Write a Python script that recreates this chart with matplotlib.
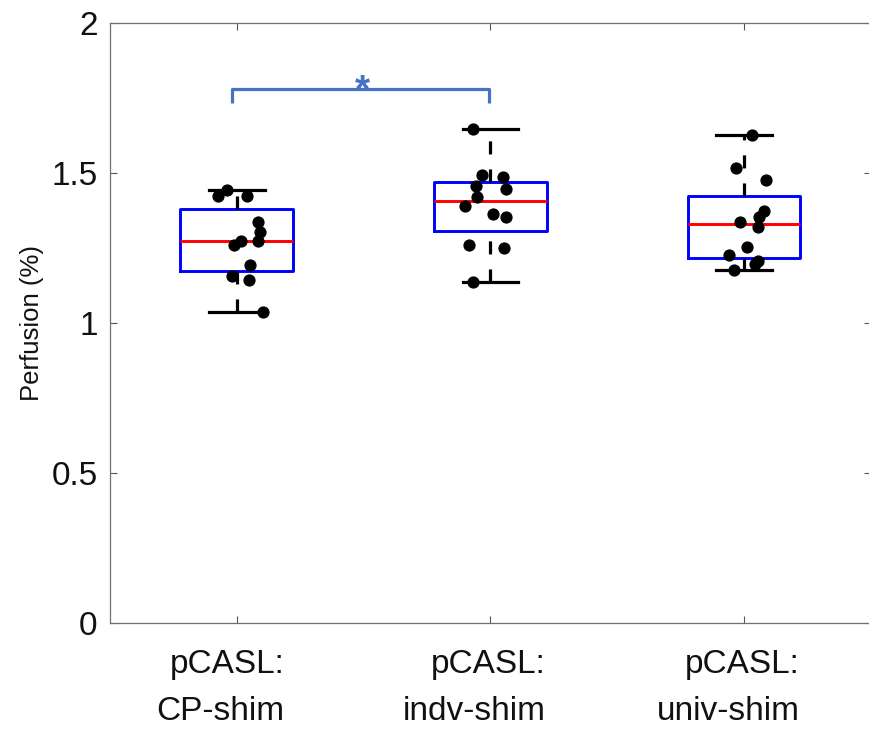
import numpy as np
import matplotlib
matplotlib.use("Agg")
import matplotlib.pyplot as plt
from matplotlib import cbook
import matplotlib.transforms as mtransforms

plt.rcParams['font.family'] = ['Liberation Sans', 'DejaVu Sans']
plt.rcParams['lines.scale_dashes'] = False

# ---- data ----
categories = ["pCASL:\nCP-shim", "pCASL:\nindv-shim", "pCASL:\nuniv-shim"]
cp_shim = [1.423, 1.443, 1.425, 1.337, 1.303, 1.273, 1.273, 1.259, 1.193, 1.157, 1.143, 1.0375]
indv_shim = [1.648, 1.495, 1.486, 1.458, 1.449, 1.421, 1.392, 1.364, 1.354, 1.259, 1.251, 1.137]
univ_shim = [1.628, 1.519, 1.476, 1.373, 1.353, 1.337, 1.321, 1.254, 1.226, 1.207, 1.196, 1.177]
# horizontal jitter of the dots (in category units)
cp_jitter = [-0.073, -0.037, 0.039, 0.083, 0.092, 0.085, 0.017, -0.013, 0.052, -0.020, 0.050, 0.103]
indv_jitter = [-0.069, -0.035, 0.050, -0.058, 0.060, -0.051, -0.099, 0.010, 0.063, -0.086, 0.052, -0.069]
univ_jitter = [0.030, -0.032, 0.086, 0.079, 0.060, -0.016, 0.056, 0.013, -0.058, 0.056, 0.043, -0.038]
yticks = [0, 0.5, 1, 1.5, 2]
ytick_labels = ["0", "0.5", "1", "1.5", "2"]
ylabel = "Perfusion (%)"
sig_pair = (1, 2)
sig_text = "*"

groups = [cp_shim, indv_shim, univ_shim]
jitters = [cp_jitter, indv_jitter, univ_jitter]
positions = [1, 2, 3]

# ---- box statistics (MATLAB-style quartiles) ----
stats = []
for g in groups:
    a = np.asarray(g)
    s = cbook.boxplot_stats(a, whis=1.5)[0]
    q1, med, q3 = np.percentile(a, [25, 50, 75], method='hazen')
    iqr = q3 - q1
    s['q1'], s['med'], s['q3'] = q1, med, q3
    s['whislo'] = a[a >= q1 - 1.5 * iqr].min()
    s['whishi'] = a[a <= q3 + 1.5 * iqr].max()
    s['fliers'] = []
    stats.append(s)

fig = plt.figure(figsize=(8.69, 7.31), dpi=100)
ax = fig.add_axes([110 / 869, 108 / 731, 760.8 / 869, 599.7 / 731])

bp = ax.bxp(stats, positions=positions, widths=0.445, capwidths=0.22,
            showfliers=False, patch_artist=False,
            boxprops=dict(color='#0000ff', linewidth=2.1),
            medianprops=dict(color='#ff0000', linewidth=2.1),
            whiskerprops=dict(color='black', linewidth=2.3, linestyle=(0, (9.4, 10.8))),
            capprops=dict(color='black', linewidth=2.3))
# lower whiskers drawn from the cap upward (as in the original)
for i, w in enumerate(bp['whiskers']):
    if i % 2 == 0:
        xd, yd = w.get_data()
        w.set_data(np.asarray(xd)[::-1], np.asarray(yd)[::-1])

for p, g, j in zip(positions, groups, jitters):
    ax.plot(p + np.asarray(j), g, 'o', color='black', markersize=7.8, zorder=4)

# significance bracket
bx0, bx1 = sig_pair[0] - 0.02, sig_pair[1] - 0.005
by, bleg = 1.78, 1.733
ax.plot([bx0, bx0, bx1, bx1], [bleg, by, by, bleg], color='#4472c4', linewidth=2.3,
        solid_joinstyle='round', solid_capstyle='butt', zorder=3)
ax.annotate(sig_text, xy=((sig_pair[0] + sig_pair[1]) / 2 - 0.005, by), xytext=(0, -9.1),
            textcoords='offset points', ha='center', va='baseline',
            fontsize=28, fontweight='bold', color='#4472c4')

ax.set_xlim(0.5, 3.5)
ax.set_ylim(0, 2)
ax.set_xticks(positions)
ax.set_xticklabels(categories, fontsize=24, linespacing=1.65, multialignment='right')
ax.set_yticks(yticks)
ax.set_yticklabels(ytick_labels, fontsize=24)
ax.tick_params(axis='both', direction='in', length=5, width=0.8, colors='#555555',
               labelcolor='#111111', top=True, right=True)
ax.tick_params(axis='x', pad=19)
ax.tick_params(axis='y', pad=9)
offset = mtransforms.ScaledTranslation(-16 / 100, 0, fig.dpi_scale_trans)
for lab in ax.get_xticklabels():
    lab.set_transform(lab.get_transform() + offset)

for sp in ax.spines.values():
    sp.set_color('#707070')
    sp.set_linewidth(0.9)

ax.set_ylabel(ylabel, fontsize=18.5, color='#111111')
ax.yaxis.set_label_coords(-0.087, 0.5)

fig.savefig("out.png", dpi=100, facecolor='white')
